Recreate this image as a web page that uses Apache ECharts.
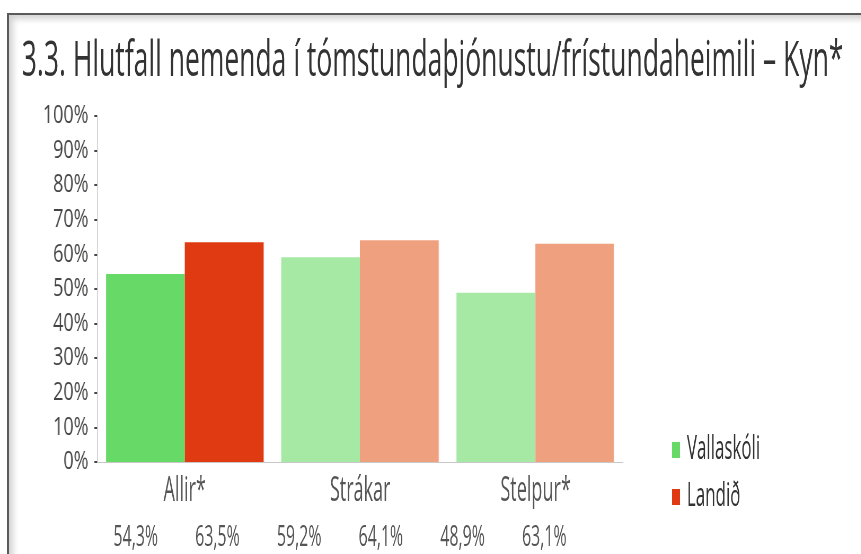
<!DOCTYPE html>
<html>
<head>
<meta charset="utf-8">
<script src="https://cdn.jsdelivr.net/npm/echarts@6/dist/echarts.min.js"></script>
<style>
  html, body { margin: 0; padding: 0; background: #fff; overflow: hidden; }
  #frame {
    position: absolute; left: 7px; top: 13px; width: 860px; height: 545px;
    border-top: 2px solid #5a5a5a; border-left: 2px solid #5a5a5a;
    box-shadow: inset 6px 6px 6px -2px rgba(0,0,0,0.18);
  }
  /* the reference looks horizontally squeezed, so draw wider and squeeze.
     the title and the bottom labels are squeezed harder than the rest */
  #charts {
    position: absolute; left: 0; top: 0; width: 1196px; height: 554px;
    transform: scaleX(0.72); transform-origin: 0 0;
  }
  #labels {
    position: absolute; left: 0; top: 0; width: 1625px; height: 554px;
    transform: scaleX(0.53); transform-origin: 0 0;
  }
</style>
</head>
<body>
<div id="frame"></div>
<div id="charts"></div>
<div id="labels"></div>
<script>
var titleText = '3.3. Hlutfall nemenda í tómstundaþjónustu/frístundaheimili – Kyn*';
var categories = ['Allir*', 'Strákar', 'Stelpur*'];
var vallaskoli = [54.3, 59.2, 48.9];
var landid = [63.5, 64.1, 63.1];
var seriesNames = ['Vallaskóli', 'Landið'];
var yTicks = [0, 10, 20, 30, 40, 50, 60, 70, 80, 90, 100];

var fontName = '"Open Sans", sans-serif';
// first group darker, others lighter
var greens = ['#66d966', '#a5e9a5', '#a5e9a5'];
var reds = ['#df3a12', '#efa07e', '#efa07e'];

function pct(v) {
  return v.toFixed(1).replace('.', ',') + '%';
}

function makeData(values, colors) {
  return values.map(function (v, i) {
    return { value: v, itemStyle: { color: colors[i] } };
  });
}

// value row under the chart: Vallaskóli, Landið for each group
var tableCells = [];
categories.forEach(function (c, i) {
  tableCells.push(pct(vallaskoli[i]));
  tableCells.push(pct(landid[i]));
});

// bars and y axis
var chart = echarts.init(document.getElementById('charts'));
chart.setOption({
  animation: false,
  textStyle: { fontFamily: fontName },
  grid: { left: 135, right: 331, top: 116, bottom: 92 },
  xAxis: {
    type: 'category',
    data: categories,
    axisLine: { lineStyle: { color: '#c8c8c8', width: 1 } },
    axisTick: { show: false },
    axisLabel: { show: false }
  },
  yAxis: {
    type: 'value',
    min: yTicks[0],
    max: yTicks[yTicks.length - 1],
    interval: 10,
    splitLine: { show: false },
    axisLine: { show: true, lineStyle: { color: '#d0d0d0' } },
    axisTick: { show: true, length: 4, lineStyle: { color: '#445', width: 2 } },
    axisLabel: {
      fontFamily: fontName, fontSize: 25, color: '#444', margin: 12,
      formatter: function (v) { return v + '%'; }
    }
  },
  series: [
    {
      name: seriesNames[0],
      type: 'bar',
      color: greens[0],
      barGap: '0%',
      barCategoryGap: '10%',
      data: makeData(vallaskoli, greens)
    },
    {
      name: seriesNames[1],
      type: 'bar',
      color: reds[0],
      data: makeData(landid, reds)
    }
  ]
});

// title, legend, category names and the value row
var labels = echarts.init(document.getElementById('labels'));
labels.setOption({
  animation: false,
  textStyle: { fontFamily: fontName },
  title: {
    text: titleText,
    left: 41,
    top: 37,
    padding: 0,
    textStyle: { fontFamily: fontName, fontSize: 50, fontWeight: 'normal', color: '#333' }
  },
  legend: {
    orient: 'vertical',
    left: 1268,
    top: 434,
    padding: 0,
    itemGap: 15,
    itemWidth: 15,
    itemHeight: 16,
    icon: 'rect',
    data: seriesNames,
    textStyle: { fontFamily: fontName, fontSize: 32, color: '#333', padding: [0, 0, 0, 8] }
  },
  grid: [
    { left: 183, right: 449, top: 116, bottom: 92 },
    { left: 179, right: 521, top: 462, height: 1 }
  ],
  xAxis: [
    {
      type: 'category',
      data: categories,
      axisLine: { show: false },
      axisTick: { show: false },
      axisLabel: { fontFamily: fontName, fontSize: 34, color: '#555', margin: 12 }
    },
    {
      type: 'category',
      gridIndex: 1,
      data: tableCells,
      axisLine: { show: false },
      axisTick: { show: false },
      axisLabel: { fontFamily: fontName, fontSize: 30, color: '#555', margin: 59, interval: 0 }
    }
  ],
  yAxis: [
    { type: 'value', show: false },
    { type: 'value', gridIndex: 1, show: false }
  ],
  // empty series, only there so the legend gets its names and colours
  series: [
    { name: seriesNames[0], type: 'bar', color: greens[0], data: [] },
    { name: seriesNames[1], type: 'bar', color: reds[0], data: [] }
  ]
});
</script>
</body>
</html>
